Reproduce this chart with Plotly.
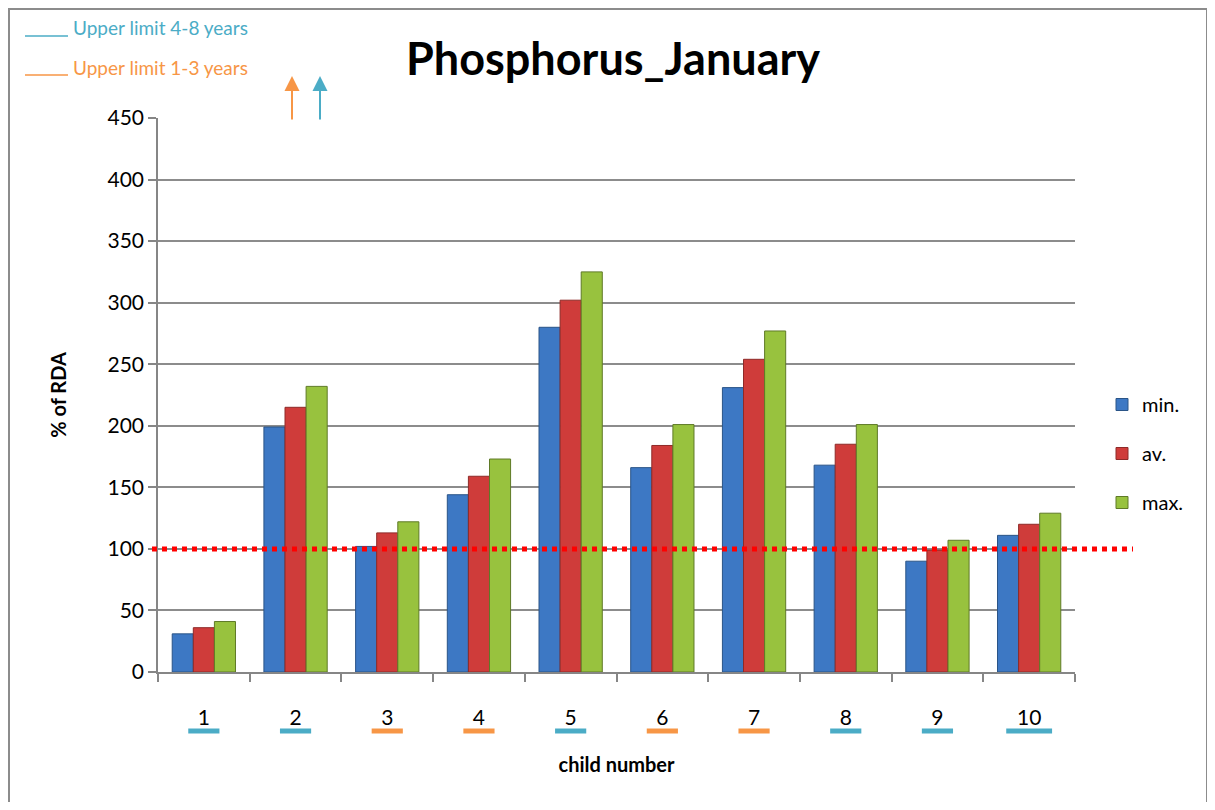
import plotly.graph_objects as go

children = ["1", "2", "3", "4", "5", "6", "7", "8", "9", "10"]
min_vals = [31, 199, 102, 144, 280, 166, 231, 168, 90, 111]
av_vals = [36, 215, 113, 159, 302, 184, 254, 185, 99, 120]
max_vals = [41, 232, 122, 173, 325, 201, 277, 201, 107, 129]
age_group = ["4-8", "4-8", "1-3", "1-3", "4-8", "1-3", "1-3", "4-8", "4-8", "4-8"]
rda_line = 100
y_ticks = [0, 50, 100, 150, 200, 250, 300, 350, 400, 450]

TEAL = "#4bacc6"
ORANGE = "#f79646"
FONT = "Lato"

OFF = 8  # page body margin
W, H = 1199, 794
L, T = 158 - OFF, 118 - OFF
PW, PH = 917, 554
R = W - L - PW
B = H - T - PH


def px(x):
    return (x - OFF - L) / PW


def py(y):
    return (T + PH - (y - OFF)) / PH


xs = list(range(1, len(children) + 1))

fig = go.Figure()
series = [("min.", min_vals, "#3d78c4", "#2a5487"),
          ("av.", av_vals, "#cf3c3a", "#8e2a28"),
          ("max.", max_vals, "#98c23e", "#5f7a27")]
for i, (name, vals, col, edge) in enumerate(series):
    fig.add_trace(go.Bar(x=xs, y=vals, name=name, marker=dict(color=col, line=dict(color=edge, width=1)),
                         legendgroup=str(i)))

shapes = []
# outer border
shapes.append(dict(type="rect", xref="paper", yref="paper", x0=px(9), x1=px(1207), y0=py(803), y1=py(9),
                   line=dict(color="#8c8c8c", width=2), layer="below"))
# RDA dotted line
shapes.append(dict(type="line", xref="paper", yref="y", x0=px(152), x1=px(1133), y0=rda_line, y1=rda_line,
                   line=dict(color="#ff0000", width=5, dash="dot")))
# underline markers for age groups
for x, g, lab in zip(xs, age_group, children):
    half = 0.25 if len(lab) > 1 else 0.17
    shapes.append(dict(type="line", xref="x", yref="paper", x0=x - half, x1=x + half,
                       y0=py(731), y1=py(731), line=dict(color=TEAL if g == "4-8" else ORANGE, width=5)))
# top-left legend lines
shapes.append(dict(type="line", xref="paper", yref="paper", x0=px(25), x1=px(68), y0=py(36), y1=py(36),
                   line=dict(color=TEAL, width=1.5)))
shapes.append(dict(type="line", xref="paper", yref="paper", x0=px(25), x1=px(68), y0=py(75), y1=py(75),
                   line=dict(color=ORANGE, width=1.5)))

annotations = [
    dict(text="<b>Phosphorus_January</b>", xref="paper", yref="paper", x=px(613), y=py(58),
         xanchor="center", yanchor="middle",
         showarrow=False, font=dict(family=FONT, size=45, color="black")),
    dict(text="Upper limit 4-8 years", xref="paper", yref="paper", x=px(71), y=py(28),
         xanchor="left", yanchor="middle",
         showarrow=False, font=dict(family=FONT, size=19, color=TEAL)),
    dict(text="Upper limit 1-3 years", xref="paper", yref="paper", x=px(71), y=py(67),
         xanchor="left", yanchor="middle",
         showarrow=False, font=dict(family=FONT, size=19, color=ORANGE)),
    dict(text="", xref="paper", yref="paper", x=px(292), y=py(76), ax=0, ay=45, showarrow=True,
         arrowhead=2, arrowsize=1.5, arrowwidth=2, arrowcolor=ORANGE),
    dict(text="", xref="paper", yref="paper", x=px(320), y=py(76), ax=0, ay=45, showarrow=True,
         arrowhead=2, arrowsize=1.5, arrowwidth=2, arrowcolor=TEAL),
]

fig.update_layout(
    width=W, height=H,
    margin=dict(l=L, r=R, t=T, b=B, autoexpand=False),
    paper_bgcolor="white", plot_bgcolor="white",
    barmode="group", bargap=0.31, bargroupgap=0,
    font=dict(family=FONT, size=21, color="black"),
    shapes=shapes, annotations=annotations,
    legend=dict(x=px(1102), y=py(385), xanchor="left", yanchor="top", tracegroupgap=20,
                font=dict(family=FONT, size=20, color="black"), bgcolor="rgba(0,0,0,0)",
                itemwidth=30),
    showlegend=True,
)
fig.update_xaxes(
    range=[0.5, len(children) + 0.5], tickvals=xs, ticktext=children, ticks="", showgrid=False,
    showline=True, linecolor="#868686", linewidth=1.5, tickfont=dict(size=21),
    minor=dict(tickvals=[x + 0.5 for x in range(len(children) + 1)], ticks="outside", ticklen=8,
               tickcolor="#868686", tickwidth=1.5, showgrid=False),
    title=dict(text="<b>child number</b>", font=dict(size=20), standoff=30),
    ticklabelstandoff=26,
)
fig.update_yaxes(
    range=[0, 450], tickvals=y_ticks, showgrid=True, gridcolor="#8c8c8c", gridwidth=1.5,
    showline=True, linecolor="#868686", linewidth=1.5, ticks="outside", ticklen=8,
    tickcolor="#868686", tickwidth=1.5, tickfont=dict(size=21), zeroline=False,
    title=dict(text="<b>% of RDA</b>", font=dict(size=20), standoff=36),
)

fig.write_html("out.html")
